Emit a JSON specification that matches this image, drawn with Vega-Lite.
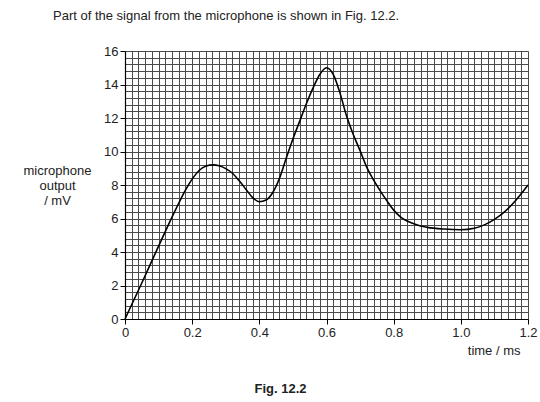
{
  "$schema": "https://vega.github.io/schema/vega-lite/v6.json",
  "width": 403,
  "height": 268,
  "autosize": "none",
  "padding": {"left": 125, "top": 51, "right": 12, "bottom": 83},
  "background": "white",
  "config": {
    "view": {"stroke": null},
    "font": "Liberation Sans",
    "axis": {"labelFont": "Liberation Sans", "titleFont": "Liberation Sans", "labelColor": "#222", "titleColor": "#222", "labelFontSize": 13, "titleFontSize": 13, "titleFontWeight": "normal"}
  },
  "title": {
    "text": "Part of the signal from the microphone is shown in Fig. 12.2.",
    "anchor": "start",
    "frame": "group",
    "dx": -72,
    "offset": 22,
    "fontSize": 13,
    "fontWeight": "normal",
    "color": "#222",
    "font": "Liberation Sans"
  },
  "data": {
    "values": [
      {"t": 0, "v": 0},
      {"t": 0.05, "v": 2.15},
      {"t": 0.1, "v": 4.35},
      {"t": 0.15, "v": 6.5},
      {"t": 0.18, "v": 7.7},
      {"t": 0.2, "v": 8.35},
      {"t": 0.22, "v": 8.85},
      {"t": 0.24, "v": 9.12},
      {"t": 0.263, "v": 9.2},
      {"t": 0.28, "v": 9.15},
      {"t": 0.3, "v": 8.98},
      {"t": 0.32, "v": 8.7},
      {"t": 0.34, "v": 8.25},
      {"t": 0.36, "v": 7.75},
      {"t": 0.38, "v": 7.25},
      {"t": 0.4, "v": 7.0},
      {"t": 0.42, "v": 7.1},
      {"t": 0.44, "v": 7.55},
      {"t": 0.46, "v": 8.4},
      {"t": 0.48, "v": 9.6},
      {"t": 0.5, "v": 10.75},
      {"t": 0.52, "v": 11.8},
      {"t": 0.54, "v": 12.85},
      {"t": 0.56, "v": 13.8},
      {"t": 0.58, "v": 14.6},
      {"t": 0.6, "v": 15.0},
      {"t": 0.62, "v": 14.6},
      {"t": 0.64, "v": 13.5},
      {"t": 0.66, "v": 12.1},
      {"t": 0.68, "v": 11.0},
      {"t": 0.7, "v": 10.05},
      {"t": 0.72, "v": 9.05},
      {"t": 0.74, "v": 8.3},
      {"t": 0.76, "v": 7.65},
      {"t": 0.78, "v": 7.05},
      {"t": 0.8, "v": 6.5},
      {"t": 0.82, "v": 6.1},
      {"t": 0.84, "v": 5.85},
      {"t": 0.86, "v": 5.68},
      {"t": 0.88, "v": 5.55},
      {"t": 0.9, "v": 5.47},
      {"t": 0.95, "v": 5.37},
      {"t": 1.0, "v": 5.33},
      {"t": 1.04, "v": 5.42},
      {"t": 1.07, "v": 5.62},
      {"t": 1.1, "v": 5.95},
      {"t": 1.13, "v": 6.4},
      {"t": 1.16, "v": 7.0},
      {"t": 1.2, "v": 8.0}
    ]
  },
  "layer": [
    {
      "mark": {"type": "line", "color": "black", "strokeWidth": 1.6, "interpolate": "monotone"},
      "encoding": {
        "x": {
          "field": "t", "type": "quantitative",
          "scale": {"domain": [0, 1.2], "nice": false},
          "axis": {
            "orient": "bottom",
            "values": [0,0.02,0.04,0.06,0.08,0.1,0.12,0.14,0.16,0.18,0.2,0.22,0.24,0.26,0.28,0.3,0.32,0.34,0.36,0.38,0.4,0.42,0.44,0.46,0.48,0.5,0.52,0.54,0.56,0.58,0.6,0.62,0.64,0.66,0.68,0.7,0.72,0.74,0.76,0.78,0.8,0.82,0.84,0.86,0.88,0.9,0.92,0.94,0.96,0.98,1.0,1.02,1.04,1.06,1.08,1.1,1.12,1.14,1.16,1.18,1.2],
            "grid": true, "gridColor": "#4a4a4a", "gridWidth": 1,
            "domainColor": "black", "domainWidth": 1.2,
            "tickColor": "black", "tickSize": 5,
            "tickOpacity": {"condition": {"test": "abs(datum.value*5 - round(datum.value*5)) < 0.001", "value": 1}, "value": 0},
            "labelExpr": "abs(datum.value*5 - round(datum.value*5)) < 0.001 ? (datum.value == 0 ? '0' : format(datum.value, '.1f')) : ''",
            "labelPadding": 2, "labelFlush": false,
            "title": "time / ms",
            "titleAlign": "right", "titleAnchor": "end", "titleBaseline": "middle",
            "titleX": 395, "titleY": 31
          }
        },
        "y": {
          "field": "v", "type": "quantitative",
          "scale": {"domain": [0, 16], "nice": false},
          "axis": {
            "orient": "left",
            "values": [0,0.4,0.8,1.2,1.6,2,2.4,2.8,3.2,3.6,4,4.4,4.8,5.2,5.6,6,6.4,6.8,7.2,7.6,8,8.4,8.8,9.2,9.6,10,10.4,10.8,11.2,11.6,12,12.4,12.8,13.2,13.6,14,14.4,14.8,15.2,15.6,16],
            "grid": true, "gridColor": "#4a4a4a", "gridWidth": 1,
            "domainColor": "black", "domainWidth": 1.2,
            "tickColor": "black", "tickSize": 5,
            "tickOpacity": {"condition": {"test": "abs(datum.value/2 - round(datum.value/2)) < 0.001", "value": 1}, "value": 0},
            "labelExpr": "abs(datum.value/2 - round(datum.value/2)) < 0.001 ? format(datum.value, 'd') : ''",
            "labelPadding": 2, "labelFlush": false,
            "title": ["microphone", "output", " / mV"],
            "titleAngle": 0, "titleAlign": "center", "titleBaseline": "middle",
            "titleLineHeight": 15,
            "titleX": -68, "titleY": 119
          }
        }
      }
    },
    {
      "mark": {"type": "line", "opacity": 0},
      "encoding": {
        "x": {
          "field": "t", "type": "quantitative",
          "axis": {
            "orient": "bottom",
            "labels": false, "ticks": false, "domain": false, "grid": false,
            "title": "Fig. 12.2", "titleFontWeight": "bold", "titleFontSize": 13,
            "titleAlign": "center", "titleBaseline": "middle",
            "titleX": 155, "titleY": 69
          }
        },
        "y": {"field": "v", "type": "quantitative", "axis": null}
      }
    }
  ],
  "resolve": {"axis": {"x": "independent", "y": "independent"}}
}
